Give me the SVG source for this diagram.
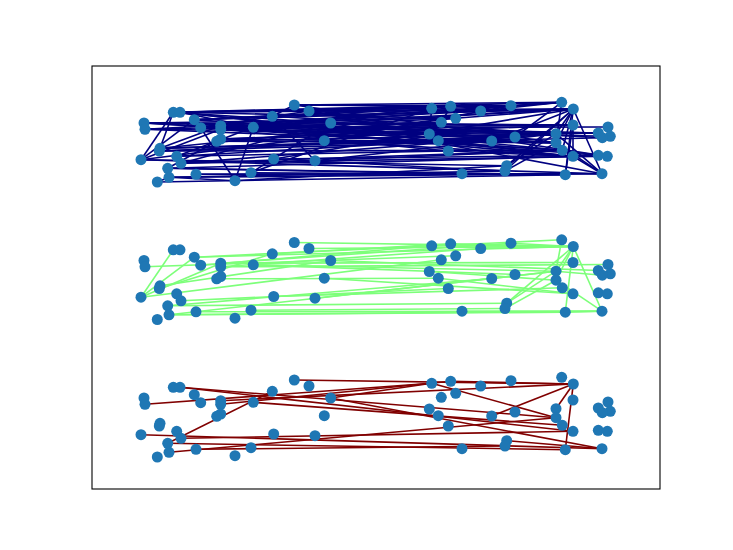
<svg xmlns="http://www.w3.org/2000/svg" width="733" height="550" viewBox="0 0 733 550">
<style>
.bg{fill:#fff}
.ax{fill:none;stroke:#000;stroke-width:1.1}
.edges path{fill:none;stroke-width:1.6}
.red path{stroke:#800000}
.green path{stroke:#7dff7a}
.navy path{stroke:#000080}
.nodes circle{fill:#1f77b4}
</style>
<rect class="bg" x="0" y="0" width="733" height="550"/>
<g id="connectors" class="edges">
<g id="edges-bottom" class="red">
<path d="M180 387.3L573 431.3"/><path d="M180 387.3L556 417.7"/><path d="M145 404.3L431.7 383.3"/><path d="M294.3 380L573.3 384"/><path d="M167.7 443.3L272.3 391.3"/><path d="M431.7 383.3L556 417.7"/><path d="M573.3 384L491.7 416"/><path d="M573.3 384L556 408.7"/><path d="M573.3 384L565.3 449.7"/><path d="M220.7 404.3L450.7 381.3"/><path d="M220.7 400.7L573.3 384"/><path d="M253.3 402.3L562.3 425.3"/><path d="M330.7 398L602 448.7"/><path d="M181 438.3L573 431.3"/><path d="M169 452.3L556 417.7"/><path d="M167.7 443.3L565.3 449.7"/><path d="M141 434.7L602 448.7"/><path d="M506.7 440.7L602 448.7"/><path d="M196 449.3L505 446"/><path d="M330.7 398L431.7 383.3"/><path d="M450.7 381.3L573.3 384"/>
</g>
<g id="edges-middle" class="green" transform="translate(0,-137.5)">
<path d="M141 434.7L173.3 387.3"/><path d="M141 434.7L194.3 394.7"/><path d="M141 434.7L220.7 400.7"/><path d="M141 434.7L441.3 397.3"/><path d="M159.3 426L272.3 391.3"/><path d="M145 404.3L455.7 393.3"/><path d="M194.3 394.7L561.7 377.3"/><path d="M194.3 394.7L573.3 384"/><path d="M200.7 402.7L431.7 383.3"/><path d="M220.7 400.7L511 380.7"/><path d="M220.7 404.3L480.7 386"/><path d="M253.3 402.3L556 408.7"/><path d="M253.3 402.3L515 412"/><path d="M294.3 380L573.3 384"/><path d="M309 386L573.3 384"/><path d="M330.7 398L598.3 408"/><path d="M272.3 391.3L450.7 381.3"/><path d="M216.7 416.3L438.3 415.7"/><path d="M324.3 415.7L573 431.3"/><path d="M273.7 434L562.3 425.3"/><path d="M315 435.7L556 408.7"/><path d="M169 452.3L556 408.7"/><path d="M167.7 443.3L491.7 416"/><path d="M169 452.3L602 448.7"/><path d="M169 452.3L565.3 449.7"/><path d="M167.7 443.3L506.7 440.7"/><path d="M196 449.3L602 448.7"/><path d="M251 447.7L505 446"/><path d="M462 448.7L602 448.7"/><path d="M565.3 449.7L602 448.7"/><path d="M573.3 384L556 408.7"/><path d="M573.3 384L556 417.7"/><path d="M573.3 384L506.7 440.7"/><path d="M573.3 384L565.3 449.7"/><path d="M573.3 384L602 448.7"/><path d="M561.7 377.3L556 408.7"/><path d="M556 408.7L602.3 412.7"/><path d="M556 417.7L602 448.7"/><path d="M506.7 440.7L556 408.7"/><path d="M505 446L556 417.7"/><path d="M431.7 383.3L573.3 384"/><path d="M450.7 381.3L573.3 384"/><path d="M480.7 386L573.3 384"/><path d="M511 380.7L573.3 384"/><path d="M220.7 400.7L573 400"/><path d="M429.3 409L556 417.7"/><path d="M160 423.3L330.7 398"/><path d="M181 438.3L448.3 426"/><path d="M220.7 404.3L608 402"/><path d="M438.3 415.7L573 431.3"/>
</g>
<g id="edges-top" class="navy" transform="translate(0,-275)">
<path d="M173.3 387.3L561.7 377.3"/><path d="M173.3 387.3L450.7 381.3"/><path d="M180 387.3L573.3 384"/><path d="M180 387.3L431.7 383.3"/><path d="M144 398L455.7 393.3"/><path d="M145 404.3L480.7 386"/><path d="M145 404.3L556 408.7"/><path d="M194.3 394.7L511 380.7"/><path d="M194.3 394.7L573.3 384"/><path d="M200.7 402.7L441.3 397.3"/><path d="M200.7 402.7L573 400"/><path d="M220.7 400.7L561.7 377.3"/><path d="M220.7 400.7L598.3 408"/><path d="M220.7 404.3L455.7 393.3"/><path d="M220.7 404.3L610.3 411.3"/><path d="M253.3 402.3L450.7 381.3"/><path d="M253.3 402.3L608 402"/><path d="M272.3 391.3L573.3 384"/><path d="M294.3 380L561.7 377.3"/><path d="M294.3 380L511 380.7"/><path d="M309 386L573.3 384"/><path d="M330.7 398L573 400"/><path d="M330.7 398L602.3 412.7"/><path d="M144 398L598.3 408"/><path d="M173.3 387.3L330.7 398"/><path d="M180 387.3L253.3 402.3"/><path d="M194.3 394.7L272.3 391.3"/><path d="M200.7 402.7L309 386"/><path d="M220.7 404.3L431.7 383.3"/><path d="M294.3 380L450.7 381.3"/><path d="M309 386L480.7 386"/><path d="M272.3 391.3L294.3 380"/><path d="M253.3 402.3L515 412"/><path d="M220.7 400.7L429.3 409"/><path d="M145 404.3L438.3 415.7"/><path d="M144 398L491.7 416"/>
<path d="M173.3 387.3L511 380.7"/><path d="M180 387.3L455.7 393.3"/><path d="M144 398L573 400"/><path d="M145 404.3L441.3 397.3"/><path d="M194.3 394.7L450.7 381.3"/><path d="M200.7 402.7L573.3 384"/><path d="M220.7 400.7L556 408.7"/><path d="M220.7 404.3L515 412"/><path d="M253.3 402.3L561.7 377.3"/><path d="M272.3 391.3L556 408.7"/><path d="M330.7 398L573.3 384"/><path d="M309 386L429.3 409"/><path d="M220.7 414L556 417.7"/><path d="M160 423.3L602.3 412.7"/><path d="M144 398L562.3 425.3"/>
<path d="M173.3 387.3L562.3 425.3"/><path d="M180 387.3L573 431.3"/><path d="M194.3 394.7L556 417.7"/><path d="M200.7 402.7L562.3 425.3"/><path d="M253.3 402.3L573 431.3"/><path d="M330.7 398L602 448.7"/><path d="M272.3 391.3L315 435.7"/><path d="M220.7 404.3L448.3 426"/><path d="M220.7 400.7L598.3 430.3"/><path d="M309 386L607.3 431.3"/><path d="M294.3 380L556 417.7"/>
<path d="M141 434.7L441.3 397.3"/><path d="M160 423.3L455.7 393.3"/><path d="M159.3 426L556 408.7"/><path d="M220.7 414L573 400"/><path d="M216.7 416.3L598.3 408"/><path d="M176.7 431.3L515 412"/><path d="M181 438.3L556 408.7"/><path d="M273.7 434L573.3 384"/><path d="M315 435.7L556 408.7"/><path d="M324.3 415.7L511 380.7"/><path d="M251 447.7L431.7 383.3"/>
<path d="M141 434.7L506.7 440.7"/><path d="M141 434.7L602 448.7"/><path d="M167.7 443.3L565.3 449.7"/><path d="M167.7 443.3L573 431.3"/><path d="M169 452.3L602 448.7"/><path d="M169 452.3L505 446"/><path d="M181 438.3L562.3 425.3"/><path d="M176.7 431.3L448.3 426"/><path d="M160 423.3L438.3 415.7"/><path d="M159.3 426L491.7 416"/><path d="M220.7 414L429.3 409"/><path d="M216.7 416.3L556 417.7"/><path d="M157.3 457L565.3 449.7"/><path d="M196 449.3L462 448.7"/><path d="M196 449.3L602 448.7"/><path d="M235 455.7L506.7 440.7"/><path d="M251 447.7L565.3 449.7"/><path d="M324.3 415.7L573 431.3"/><path d="M273.7 434L598.3 430.3"/><path d="M315 435.7L562.3 425.3"/><path d="M273.7 434L505 446"/><path d="M181 438.3L607.3 431.3"/><path d="M167.7 443.3L462 448.7"/><path d="M160 423.3L515 412"/><path d="M159.3 426L562.3 425.3"/>
<path d="M173.3 387.3L141 434.7"/><path d="M173.3 387.3L160 423.3"/><path d="M141 434.7L194.3 394.7"/><path d="M141 434.7L220.7 404.3"/><path d="M200.7 402.7L235 455.7"/><path d="M235 455.7L253.3 402.3"/><path d="M169 452.3L235 455.7"/><path d="M160 423.3L220.7 400.7"/><path d="M176.7 431.3L253.3 402.3"/><path d="M167.7 443.3L220.7 414"/><path d="M157.3 457L169 452.3"/><path d="M251 447.7L330.7 398"/><path d="M181 438.3L330.7 398"/>
<path d="M431.7 383.3L429.3 409"/><path d="M450.7 381.3L441.3 397.3"/><path d="M573.3 384L556 408.7"/><path d="M573.3 384L556 417.7"/><path d="M573.3 384L562.3 425.3"/><path d="M573.3 384L565.3 449.7"/><path d="M573.3 384L602 448.7"/><path d="M573.3 384L506.7 440.7"/><path d="M573.3 384L505 446"/><path d="M573.3 384L491.7 416"/><path d="M506.7 440.7L556 408.7"/><path d="M573 400L565.3 449.7"/><path d="M556 408.7L598.3 408"/><path d="M561.7 377.3L556 417.7"/><path d="M556 417.7L602 448.7"/><path d="M556 408.7L602 448.7"/><path d="M573 400L573 431.3"/><path d="M448.3 426L573 431.3"/><path d="M438.3 415.7L556 417.7"/><path d="M505 446L556 417.7"/><path d="M480.7 386L561.7 377.3"/><path d="M455.7 393.3L573.3 384"/><path d="M511 380.7L561.7 377.3"/><path d="M561.7 377.3L515 412"/><path d="M491.7 416L556 417.7"/><path d="M562.3 425.3L598.3 430.3"/><path d="M573 431.3L602 448.7"/>
</g>
</g>
<g id="nodes-bottom" class="nodes">
<g id="bot-n1"><circle cx="173.3" cy="387.3" r="5.5"/></g><g id="bot-n2"><circle cx="180" cy="387.3" r="5.5"/></g><g id="bot-n3"><circle cx="144" cy="398" r="5.5"/></g><g id="bot-n4"><circle cx="145" cy="404.3" r="5.5"/></g><g id="bot-n5"><circle cx="194.3" cy="394.7" r="5.5"/></g><g id="bot-n6"><circle cx="200.7" cy="402.7" r="5.5"/></g><g id="bot-n7"><circle cx="220.7" cy="400.7" r="5.5"/></g><g id="bot-n8"><circle cx="220.7" cy="404.3" r="5.5"/></g><g id="bot-n9"><circle cx="253.3" cy="402.3" r="5.5"/></g><g id="bot-n10"><circle cx="220.7" cy="414" r="5.5"/></g><g id="bot-n11"><circle cx="216.7" cy="416.3" r="5.5"/></g><g id="bot-n12"><circle cx="160" cy="423.3" r="5.5"/></g><g id="bot-n13"><circle cx="159.3" cy="426" r="5.5"/></g><g id="bot-n14"><circle cx="141" cy="434.7" r="5.5"/></g><g id="bot-n15"><circle cx="176.7" cy="431.3" r="5.5"/></g><g id="bot-n16"><circle cx="181" cy="438.3" r="5.5"/></g><g id="bot-n17"><circle cx="167.7" cy="443.3" r="5.5"/></g><g id="bot-n18"><circle cx="169" cy="452.3" r="5.5"/></g><g id="bot-n19"><circle cx="157.3" cy="457" r="5.5"/></g><g id="bot-n20"><circle cx="196" cy="449.3" r="5.5"/></g><g id="bot-n21"><circle cx="235" cy="455.7" r="5.5"/></g><g id="bot-n22"><circle cx="251" cy="447.7" r="5.5"/></g><g id="bot-n23"><circle cx="272.3" cy="391.3" r="5.5"/></g><g id="bot-n24"><circle cx="294.3" cy="380" r="5.5"/></g><g id="bot-n25"><circle cx="309" cy="386" r="5.5"/></g><g id="bot-n26"><circle cx="330.7" cy="398" r="5.5"/></g><g id="bot-n27"><circle cx="324.3" cy="415.7" r="5.5"/></g><g id="bot-n28"><circle cx="273.7" cy="434" r="5.5"/></g><g id="bot-n29"><circle cx="315" cy="435.7" r="5.5"/></g><g id="bot-n30"><circle cx="431.7" cy="383.3" r="5.5"/></g><g id="bot-n31"><circle cx="450.7" cy="381.3" r="5.5"/></g><g id="bot-n32"><circle cx="480.7" cy="386" r="5.5"/></g><g id="bot-n33"><circle cx="441.3" cy="397.3" r="5.5"/></g><g id="bot-n34"><circle cx="455.7" cy="393.3" r="5.5"/></g><g id="bot-n35"><circle cx="429.3" cy="409" r="5.5"/></g><g id="bot-n36"><circle cx="438.3" cy="415.7" r="5.5"/></g><g id="bot-n37"><circle cx="448.3" cy="426" r="5.5"/></g><g id="bot-n38"><circle cx="491.7" cy="416" r="5.5"/></g><g id="bot-n39"><circle cx="462" cy="448.7" r="5.5"/></g><g id="bot-n40"><circle cx="511" cy="380.7" r="5.5"/></g><g id="bot-n41"><circle cx="561.7" cy="377.3" r="5.5"/></g><g id="bot-n42"><circle cx="573.3" cy="384" r="5.5"/></g><g id="bot-n43"><circle cx="515" cy="412" r="5.5"/></g><g id="bot-n44"><circle cx="573" cy="400" r="5.5"/></g><g id="bot-n45"><circle cx="556" cy="408.7" r="5.5"/></g><g id="bot-n46"><circle cx="556" cy="417.7" r="5.5"/></g><g id="bot-n47"><circle cx="562.3" cy="425.3" r="5.5"/></g><g id="bot-n48"><circle cx="573" cy="431.3" r="5.5"/></g><g id="bot-n49"><circle cx="506.7" cy="440.7" r="5.5"/></g><g id="bot-n50"><circle cx="505" cy="446" r="5.5"/></g><g id="bot-n51"><circle cx="565.3" cy="449.7" r="5.5"/></g><g id="bot-n52"><circle cx="602" cy="448.7" r="5.5"/></g><g id="bot-n53"><circle cx="598.3" cy="408" r="5.5"/></g><g id="bot-n54"><circle cx="608" cy="402" r="5.5"/></g><g id="bot-n55"><circle cx="610.3" cy="411.3" r="5.5"/></g><g id="bot-n56"><circle cx="602.3" cy="412.7" r="5.5"/></g><g id="bot-n57"><circle cx="598.3" cy="430.3" r="5.5"/></g><g id="bot-n58"><circle cx="607.3" cy="431.3" r="5.5"/></g>
</g>
<g id="nodes-middle" class="nodes" transform="translate(0,-137.5)">
<g id="mid-n1"><circle cx="173.3" cy="387.3" r="5.5"/></g><g id="mid-n2"><circle cx="180" cy="387.3" r="5.5"/></g><g id="mid-n3"><circle cx="144" cy="398" r="5.5"/></g><g id="mid-n4"><circle cx="145" cy="404.3" r="5.5"/></g><g id="mid-n5"><circle cx="194.3" cy="394.7" r="5.5"/></g><g id="mid-n6"><circle cx="200.7" cy="402.7" r="5.5"/></g><g id="mid-n7"><circle cx="220.7" cy="400.7" r="5.5"/></g><g id="mid-n8"><circle cx="220.7" cy="404.3" r="5.5"/></g><g id="mid-n9"><circle cx="253.3" cy="402.3" r="5.5"/></g><g id="mid-n10"><circle cx="220.7" cy="414" r="5.5"/></g><g id="mid-n11"><circle cx="216.7" cy="416.3" r="5.5"/></g><g id="mid-n12"><circle cx="160" cy="423.3" r="5.5"/></g><g id="mid-n13"><circle cx="159.3" cy="426" r="5.5"/></g><g id="mid-n14"><circle cx="141" cy="434.7" r="5.5"/></g><g id="mid-n15"><circle cx="176.7" cy="431.3" r="5.5"/></g><g id="mid-n16"><circle cx="181" cy="438.3" r="5.5"/></g><g id="mid-n17"><circle cx="167.7" cy="443.3" r="5.5"/></g><g id="mid-n18"><circle cx="169" cy="452.3" r="5.5"/></g><g id="mid-n19"><circle cx="157.3" cy="457" r="5.5"/></g><g id="mid-n20"><circle cx="196" cy="449.3" r="5.5"/></g><g id="mid-n21"><circle cx="235" cy="455.7" r="5.5"/></g><g id="mid-n22"><circle cx="251" cy="447.7" r="5.5"/></g><g id="mid-n23"><circle cx="272.3" cy="391.3" r="5.5"/></g><g id="mid-n24"><circle cx="294.3" cy="380" r="5.5"/></g><g id="mid-n25"><circle cx="309" cy="386" r="5.5"/></g><g id="mid-n26"><circle cx="330.7" cy="398" r="5.5"/></g><g id="mid-n27"><circle cx="324.3" cy="415.7" r="5.5"/></g><g id="mid-n28"><circle cx="273.7" cy="434" r="5.5"/></g><g id="mid-n29"><circle cx="315" cy="435.7" r="5.5"/></g><g id="mid-n30"><circle cx="431.7" cy="383.3" r="5.5"/></g><g id="mid-n31"><circle cx="450.7" cy="381.3" r="5.5"/></g><g id="mid-n32"><circle cx="480.7" cy="386" r="5.5"/></g><g id="mid-n33"><circle cx="441.3" cy="397.3" r="5.5"/></g><g id="mid-n34"><circle cx="455.7" cy="393.3" r="5.5"/></g><g id="mid-n35"><circle cx="429.3" cy="409" r="5.5"/></g><g id="mid-n36"><circle cx="438.3" cy="415.7" r="5.5"/></g><g id="mid-n37"><circle cx="448.3" cy="426" r="5.5"/></g><g id="mid-n38"><circle cx="491.7" cy="416" r="5.5"/></g><g id="mid-n39"><circle cx="462" cy="448.7" r="5.5"/></g><g id="mid-n40"><circle cx="511" cy="380.7" r="5.5"/></g><g id="mid-n41"><circle cx="561.7" cy="377.3" r="5.5"/></g><g id="mid-n42"><circle cx="573.3" cy="384" r="5.5"/></g><g id="mid-n43"><circle cx="515" cy="412" r="5.5"/></g><g id="mid-n44"><circle cx="573" cy="400" r="5.5"/></g><g id="mid-n45"><circle cx="556" cy="408.7" r="5.5"/></g><g id="mid-n46"><circle cx="556" cy="417.7" r="5.5"/></g><g id="mid-n47"><circle cx="562.3" cy="425.3" r="5.5"/></g><g id="mid-n48"><circle cx="573" cy="431.3" r="5.5"/></g><g id="mid-n49"><circle cx="506.7" cy="440.7" r="5.5"/></g><g id="mid-n50"><circle cx="505" cy="446" r="5.5"/></g><g id="mid-n51"><circle cx="565.3" cy="449.7" r="5.5"/></g><g id="mid-n52"><circle cx="602" cy="448.7" r="5.5"/></g><g id="mid-n53"><circle cx="598.3" cy="408" r="5.5"/></g><g id="mid-n54"><circle cx="608" cy="402" r="5.5"/></g><g id="mid-n55"><circle cx="610.3" cy="411.3" r="5.5"/></g><g id="mid-n56"><circle cx="602.3" cy="412.7" r="5.5"/></g><g id="mid-n57"><circle cx="598.3" cy="430.3" r="5.5"/></g><g id="mid-n58"><circle cx="607.3" cy="431.3" r="5.5"/></g>
</g>
<g id="nodes-top" class="nodes" transform="translate(0,-275)">
<g id="top-n1"><circle cx="173.3" cy="387.3" r="5.5"/></g><g id="top-n2"><circle cx="180" cy="387.3" r="5.5"/></g><g id="top-n3"><circle cx="144" cy="398" r="5.5"/></g><g id="top-n4"><circle cx="145" cy="404.3" r="5.5"/></g><g id="top-n5"><circle cx="194.3" cy="394.7" r="5.5"/></g><g id="top-n6"><circle cx="200.7" cy="402.7" r="5.5"/></g><g id="top-n7"><circle cx="220.7" cy="400.7" r="5.5"/></g><g id="top-n8"><circle cx="220.7" cy="404.3" r="5.5"/></g><g id="top-n9"><circle cx="253.3" cy="402.3" r="5.5"/></g><g id="top-n10"><circle cx="220.7" cy="414" r="5.5"/></g><g id="top-n11"><circle cx="216.7" cy="416.3" r="5.5"/></g><g id="top-n12"><circle cx="160" cy="423.3" r="5.5"/></g><g id="top-n13"><circle cx="159.3" cy="426" r="5.5"/></g><g id="top-n14"><circle cx="141" cy="434.7" r="5.5"/></g><g id="top-n15"><circle cx="176.7" cy="431.3" r="5.5"/></g><g id="top-n16"><circle cx="181" cy="438.3" r="5.5"/></g><g id="top-n17"><circle cx="167.7" cy="443.3" r="5.5"/></g><g id="top-n18"><circle cx="169" cy="452.3" r="5.5"/></g><g id="top-n19"><circle cx="157.3" cy="457" r="5.5"/></g><g id="top-n20"><circle cx="196" cy="449.3" r="5.5"/></g><g id="top-n21"><circle cx="235" cy="455.7" r="5.5"/></g><g id="top-n22"><circle cx="251" cy="447.7" r="5.5"/></g><g id="top-n23"><circle cx="272.3" cy="391.3" r="5.5"/></g><g id="top-n24"><circle cx="294.3" cy="380" r="5.5"/></g><g id="top-n25"><circle cx="309" cy="386" r="5.5"/></g><g id="top-n26"><circle cx="330.7" cy="398" r="5.5"/></g><g id="top-n27"><circle cx="324.3" cy="415.7" r="5.5"/></g><g id="top-n28"><circle cx="273.7" cy="434" r="5.5"/></g><g id="top-n29"><circle cx="315" cy="435.7" r="5.5"/></g><g id="top-n30"><circle cx="431.7" cy="383.3" r="5.5"/></g><g id="top-n31"><circle cx="450.7" cy="381.3" r="5.5"/></g><g id="top-n32"><circle cx="480.7" cy="386" r="5.5"/></g><g id="top-n33"><circle cx="441.3" cy="397.3" r="5.5"/></g><g id="top-n34"><circle cx="455.7" cy="393.3" r="5.5"/></g><g id="top-n35"><circle cx="429.3" cy="409" r="5.5"/></g><g id="top-n36"><circle cx="438.3" cy="415.7" r="5.5"/></g><g id="top-n37"><circle cx="448.3" cy="426" r="5.5"/></g><g id="top-n38"><circle cx="491.7" cy="416" r="5.5"/></g><g id="top-n39"><circle cx="462" cy="448.7" r="5.5"/></g><g id="top-n40"><circle cx="511" cy="380.7" r="5.5"/></g><g id="top-n41"><circle cx="561.7" cy="377.3" r="5.5"/></g><g id="top-n42"><circle cx="573.3" cy="384" r="5.5"/></g><g id="top-n43"><circle cx="515" cy="412" r="5.5"/></g><g id="top-n44"><circle cx="573" cy="400" r="5.5"/></g><g id="top-n45"><circle cx="556" cy="408.7" r="5.5"/></g><g id="top-n46"><circle cx="556" cy="417.7" r="5.5"/></g><g id="top-n47"><circle cx="562.3" cy="425.3" r="5.5"/></g><g id="top-n48"><circle cx="573" cy="431.3" r="5.5"/></g><g id="top-n49"><circle cx="506.7" cy="440.7" r="5.5"/></g><g id="top-n50"><circle cx="505" cy="446" r="5.5"/></g><g id="top-n51"><circle cx="565.3" cy="449.7" r="5.5"/></g><g id="top-n52"><circle cx="602" cy="448.7" r="5.5"/></g><g id="top-n53"><circle cx="598.3" cy="408" r="5.5"/></g><g id="top-n54"><circle cx="608" cy="402" r="5.5"/></g><g id="top-n55"><circle cx="610.3" cy="411.3" r="5.5"/></g><g id="top-n56"><circle cx="602.3" cy="412.7" r="5.5"/></g><g id="top-n57"><circle cx="598.3" cy="430.3" r="5.5"/></g><g id="top-n58"><circle cx="607.3" cy="431.3" r="5.5"/></g>
</g>
<rect id="axes-frame" class="ax" x="92" y="66" width="568" height="423"/>
</svg>
